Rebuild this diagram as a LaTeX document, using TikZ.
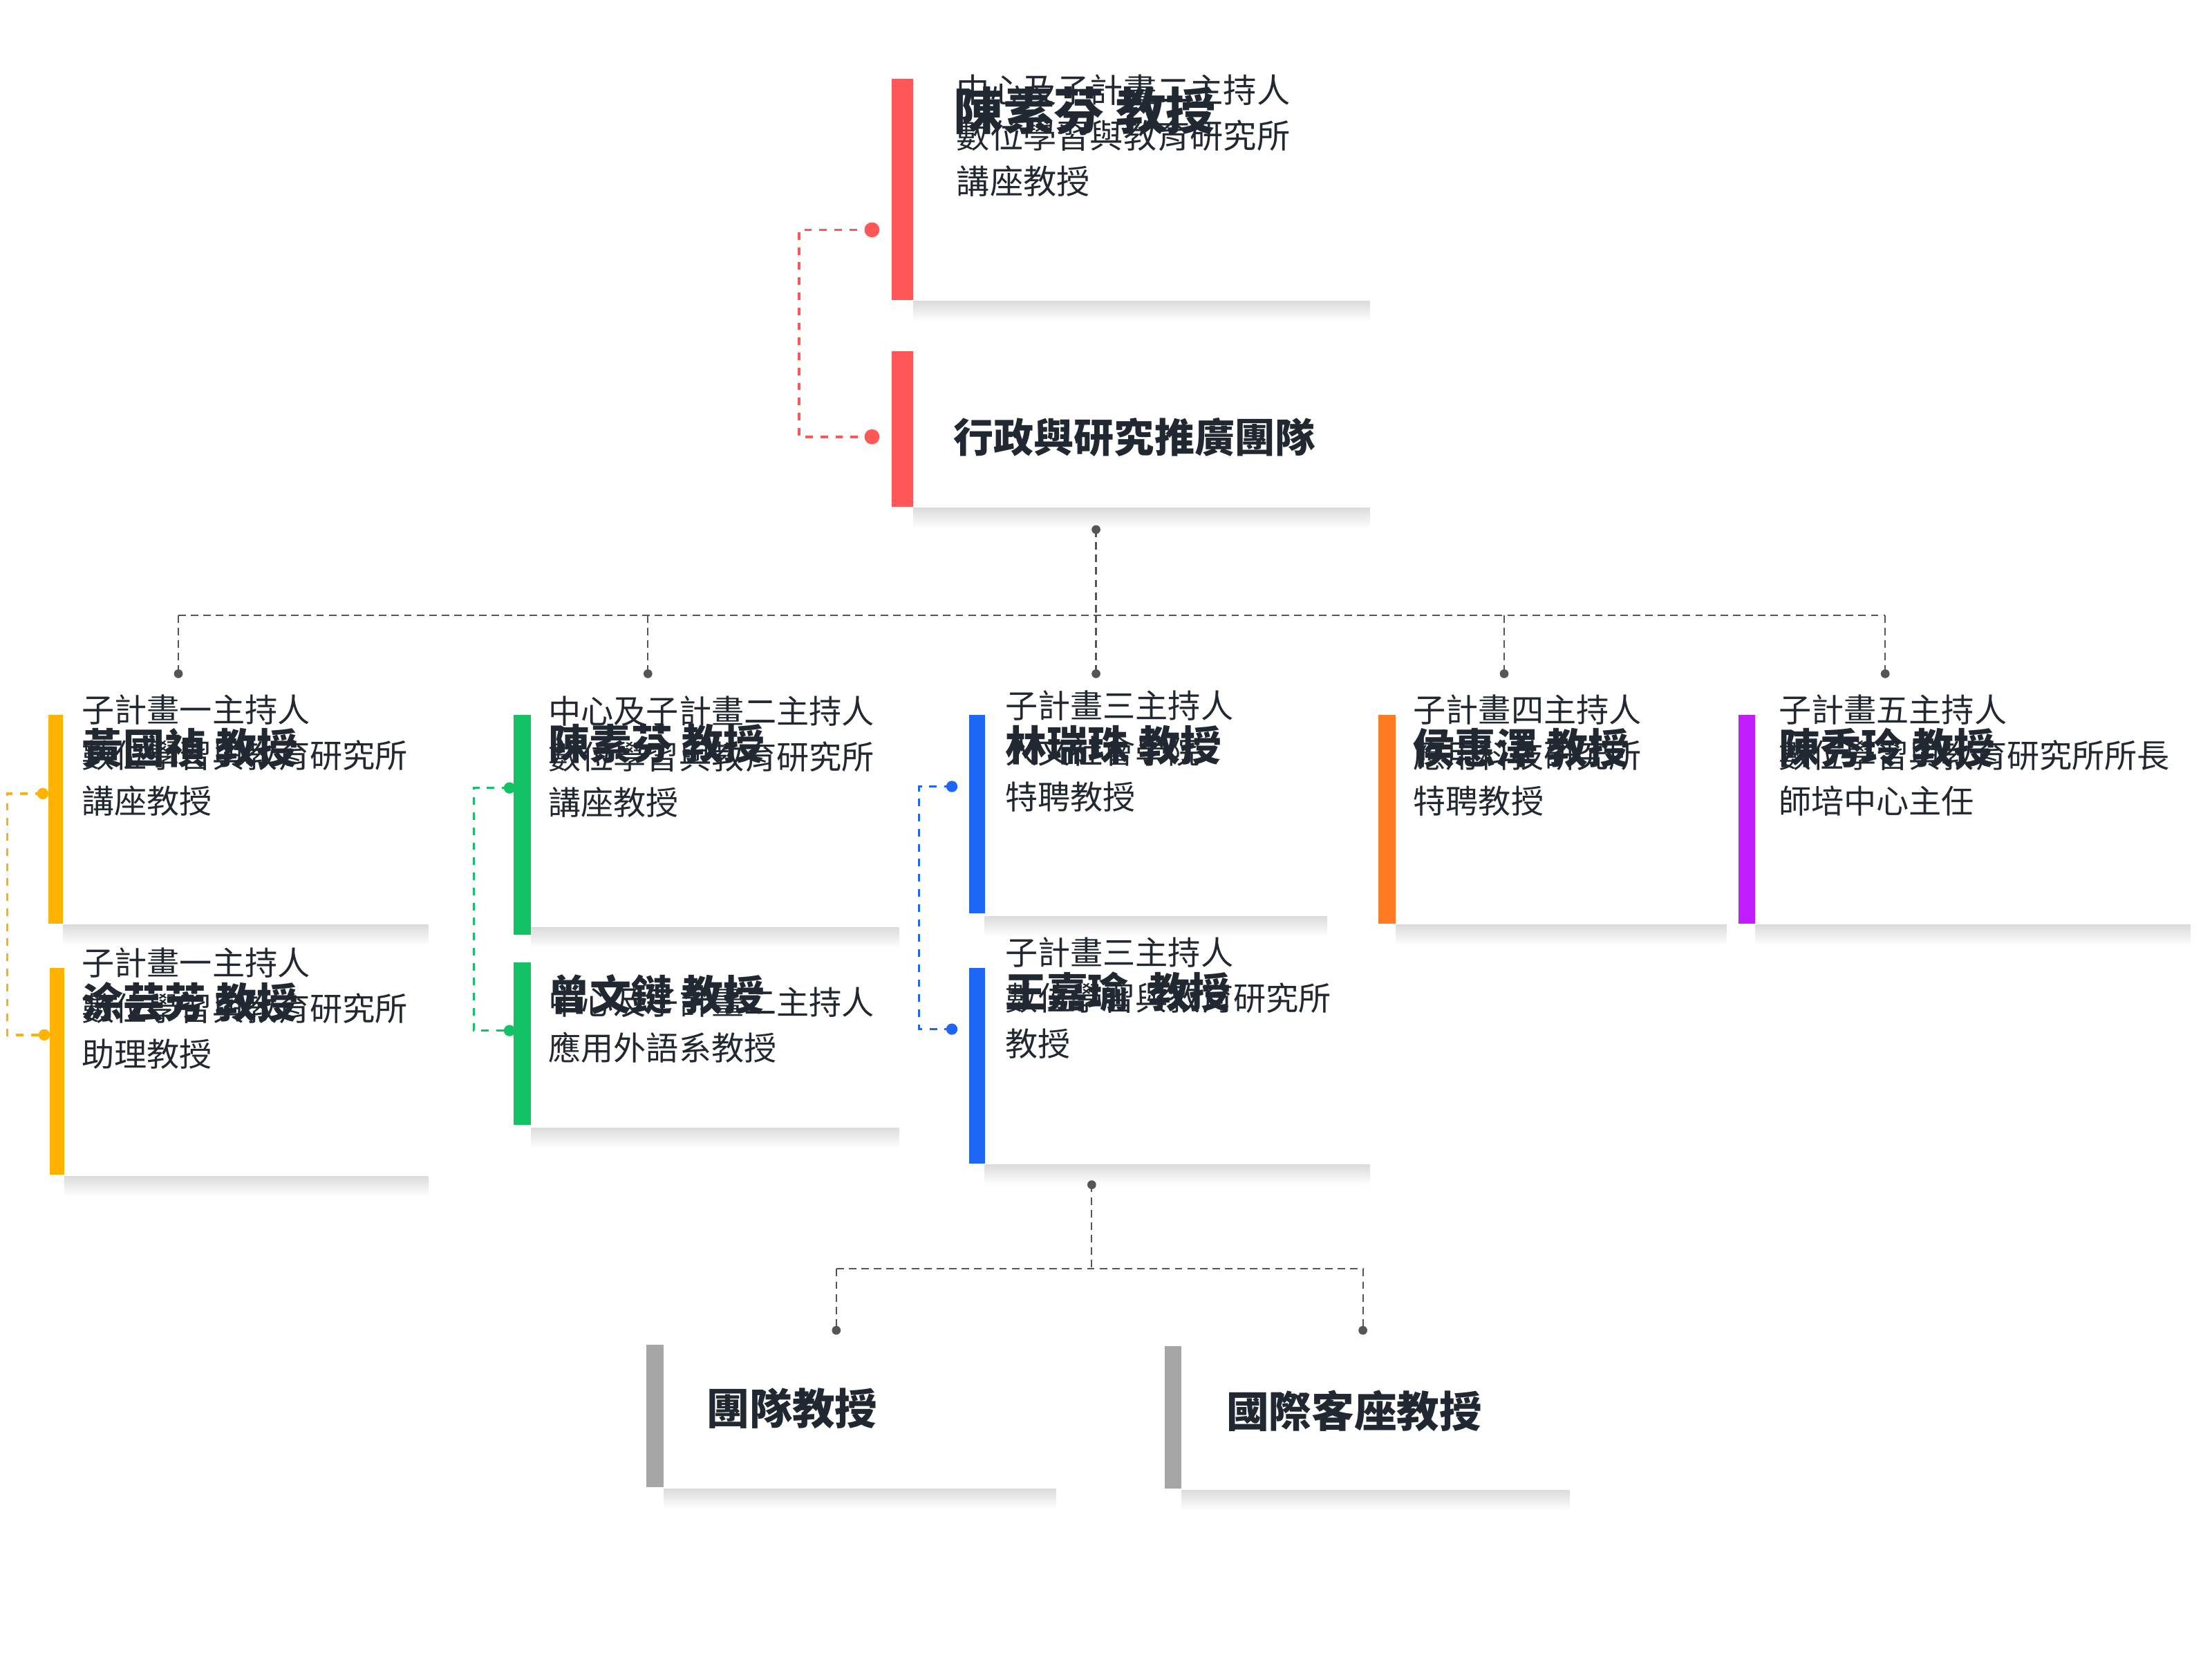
\documentclass[tikz,border=0pt]{standalone}
\usepackage{fontspec}
\setmainfont{Noto Sans CJK TC}
\usetikzlibrary{positioning}
\definecolor{ink}{HTML}{222831}
\definecolor{cred}{HTML}{FF5757}
\definecolor{cyellow}{HTML}{FFB300}
\definecolor{cgreen}{HTML}{12C264}
\definecolor{cblue}{HTML}{1E66F5}
\definecolor{corange}{HTML}{FF7A22}
\definecolor{cpurple}{HTML}{C21DFF}
\definecolor{cgray}{HTML}{A6A6A6}
\definecolor{lgray}{HTML}{555555}

\tikzset{
  who/.style = {anchor=base west, inner sep=0pt, text=ink, font=\bfseries\fontsize{16.5}{20}\selectfont},
  role/.style = {anchor=base west, inner sep=0pt, text=ink, align=left, font=\fontsize{13}{18.2}\selectfont},
  tree/.style = {draw=lgray, densely dashed, line width=0.6pt},
  link/.style = {draw=#1, dashed, line width=1pt},
  dot/.style 2 args = {fill=#1, draw=none, circle, inner sep=0pt, minimum size=#2}
}
\newcommand\shadow[3]{% x1, x2, y
  \shade[top color=black!14, bottom color=white] (#1,#3) rectangle (#2,#3+14);}

\begin{document}
\begin{tikzpicture}[x=0.02cm, y=-0.02cm]
  \useasboundingbox (0,0) rectangle (1550,1162.5);

  % top
  \shadow{640}{960}{211}
  \shadow{640}{960}{356}
  \fill[cred] (625,55) rectangle (640,210);
  \fill[cred] (625,246) rectangle (640,355);
  \node[who, font=\bfseries\fontsize{20}{24}\selectfont] (chenT) at (668,91) {陳素芬 教授};
  \node[role, font=\fontsize{13.3}{18.2}\selectfont] (chenTi) at (670,136) {中心及子計畫二主持人\\數位學習與教育研究所\\講座教授};
  \node[who, font=\bfseries\fontsize{16}{20}\selectfont] (team) at (668,317) {行政與研究推廣團隊};
  \coordinate (r1) at (611,161);
  \coordinate (r2) at (611,306);
  \draw[link=cred] (r1) -| (560,233) |- (r2);
  \node[dot={cred}{6pt}] at (r1) {};
  \node[dot={cred}{6pt}] at (r2) {};

  % tree
  \coordinate (t0) at (768,371);
  \coordinate (tm) at (768,431);
  \draw[tree] (t0) -- (tm);
  \draw[tree] (125,431) -- (1321,431);
  \foreach \x in {125,454,768,1054,1321}{
    \draw[tree] (\x,431) -- (\x,472);
    \node[dot={lgray}{3.5pt}] at (\x,472) {};
  }
  \node[dot={lgray}{3.5pt}] at (t0) {};

  % yellow
  \shadow{44}{300}{648}
  \shadow{45}{300}{824}
  \fill[cyellow] (34,501) rectangle (44,647);
  \fill[cyellow] (35,678) rectangle (45,823);
  \node[who] (huang) at (57,535) {黃國禎 教授};
  \node[role] (huangi) at (57,570) {子計畫一主持人\\數位學習與教育研究所\\講座教授};
  \node[who] (tu) at (57,713) {涂芸芳 教授};
  \node[role] (tui) at (57,747) {子計畫一主持人\\數位學習與教育研究所\\助理教授};
  \coordinate (y1) at (30,556);
  \coordinate (y2) at (31,725);
  \draw[link=cyellow] (y1) -| (5,640) |- (y2);
  \node[dot={cyellow}{4.5pt}] at (y1) {};
  \node[dot={cyellow}{4.5pt}] at (y2) {};

  % green
  \shadow{372}{630}{650}
  \shadow{372}{630}{790}
  \fill[cgreen] (360,501) rectangle (372,655);
  \fill[cgreen] (360,674) rectangle (372,788);
  \node[who] (chen) at (384,532) {陳素芬 教授};
  \node[role] (cheni) at (384,571) {中心及子計畫二主持人\\數位學習與教育研究所\\講座教授};
  \node[who] (tseng) at (384,708) {曾文鏈 教授};
  \node[role] (tsengi) at (384,743) {中心及子計畫二主持人\\應用外語系教授};
  \coordinate (g1) at (357,552);
  \coordinate (g2) at (357,722);
  \draw[link=cgreen] (g1) -| (332,640) |- (g2);
  \node[dot={cgreen}{4.5pt}] at (g1) {};
  \node[dot={cgreen}{4.5pt}] at (g2) {};

  % blue
  \shadow{690}{930}{642}
  \shadow{690}{960}{816}
  \fill[cblue] (679,501) rectangle (690,640);
  \fill[cblue] (679,678) rectangle (690,815);
  \node[who] (lin) at (704,533) {林瑞珠 教授};
  \node[role] (lini) at (704,567) {子計畫三主持人\\人文社會學院\\特聘教授};
  \node[who] (wang) at (704,706) {王嘉瑜\ \ 教授};
  \node[role] (wangi) at (704,740) {子計畫三主持人\\數位學習與教育研究所\\教授};
  \coordinate (b1) at (667,551);
  \coordinate (b2) at (667,721);
  \draw[link=cblue] (b1) -| (644,640) |- (b2);
  \node[dot={cblue}{4.5pt}] at (b1) {};
  \node[dot={cblue}{4.5pt}] at (b2) {};

  % orange
  \shadow{978}{1210}{648}
  \fill[corange] (966,501) rectangle (978,647);
  \node[who] (hou) at (990,535) {侯惠澤 教授};
  \node[role] (houi) at (990,570) {子計畫四主持人\\應用科技研究所\\特聘教授};

  % purple
  \shadow{1230}{1535}{648}
  \fill[cpurple] (1218,501) rectangle (1230,647);
  \node[who] (chenH) at (1246,535) {陳秀玲 教授};
  \node[role] (chenHi) at (1246,570) {子計畫五主持人\\數位學習與教育研究所所長\\師培中心主任};

  % bottom tree
  \coordinate (s0) at (765,830);
  \draw[tree] (s0) -- (765,889);
  \draw[tree] (586,889) -- (955,889);
  \foreach \x in {586,955}{
    \draw[tree] (\x,889) -- (\x,932);
    \node[dot={lgray}{3.5pt}] at (\x,932) {};
  }
  \node[dot={lgray}{3.5pt}] at (s0) {};

  % gray cards
  \shadow{465}{740}{1043}
  \shadow{828}{1100}{1044}
  \fill[cgray] (453,942) rectangle (465,1042);
  \fill[cgray] (816,943) rectangle (828,1043);
  \node[who, font=\bfseries\fontsize{17}{20}\selectfont] (prof) at (495,998) {團隊教授};
  \node[who, font=\bfseries\fontsize{17}{20}\selectfont] (visit) at (859,1000) {國際客座教授};
\end{tikzpicture}
\end{document}
